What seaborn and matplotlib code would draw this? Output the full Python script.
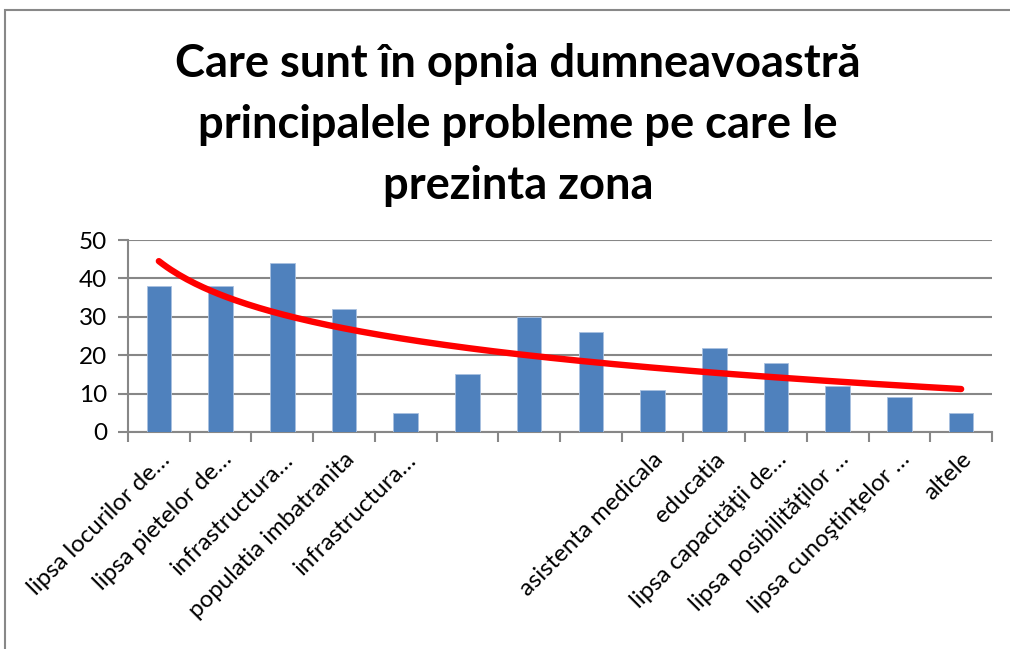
import numpy as np
import pandas as pd
import matplotlib
matplotlib.use("Agg")
import matplotlib.pyplot as plt
import seaborn as sns

title = "Care sunt în opnia dumneavoastră\nprincipalele probleme pe care le\nprezinta zona"

categories = [
    "lipsa locurilor de…",
    "lipsa pietelor de…",
    "infrastructura…",
    "populatia imbatranita",
    "infrastructura…",
    "",
    "",
    "",
    "asistenta medicala",
    "educatia",
    "lipsa capacităţii de…",
    "lipsa posibilităţilor …",
    "lipsa cunoştinţelor …",
    "altele",
]
values = [38, 38, 44, 32, 5, 15, 30, 26, 11, 22, 18, 12, 9, 5]
yticks = [0, 10, 20, 30, 40, 50]

sns.set_theme(style="white")
plt.rcParams["font.family"] = ["Lato", "DejaVu Sans"]
plt.rcParams["text.color"] = "black"
plt.rcParams["xtick.color"] = "black"
plt.rcParams["ytick.color"] = "black"

bar_color = "#4F81BD"
grid_color = "#878787"

df = pd.DataFrame({"pos": np.arange(len(values)), "value": values})

fig = plt.figure(figsize=(10.10, 6.49), dpi=100)
ax = fig.add_axes([128 / 1010, 1 - 432 / 649, (992 - 128) / 1010, (432 - 240) / 649])

sns.barplot(data=df, x="pos", y="value", color=bar_color, width=0.4,
            saturation=1, ax=ax, zorder=3, edgecolor="#A9C1E0", linewidth=0.6)

# logarithmic trend line fitted to the series
xs = np.arange(1, len(values) + 1)
a, b = np.polyfit(np.log(xs), np.array(values, dtype=float), 1)
xf = np.linspace(1, len(values), 200)
ax.plot(xf - 1, a * np.log(xf) + b, color="#FF0000", lw=4.6,
        solid_capstyle="round", zorder=4)

ax.set_xlim(-0.5, len(values) - 0.5)
ax.set_ylim(0, 50)
ax.set_yticks(yticks)
ax.set_yticklabels([str(t) for t in yticks], fontsize=17.5)
ax.yaxis.grid(True, color=grid_color, lw=1.5, zorder=0)
ax.set_axisbelow(True)

ax.set_xticks(np.arange(len(values)))
ax.set_xticklabels(categories, rotation=45, ha="right", rotation_mode="anchor",
                   fontsize=17.3)
ax.set_xlabel("")
ax.set_ylabel("")

# category boundary tick marks
ax.set_xticks(np.arange(-0.5, len(values)), minor=True)
ax.tick_params(axis="x", which="major", length=0, pad=12, colors="black")
ax.tick_params(axis="x", which="minor", length=7, width=1.5, color=grid_color,
               bottom=True)
ax.tick_params(axis="y", which="major", length=7, width=1.5, color=grid_color,
               labelcolor="black", left=True, pad=8)

for side in ["top", "right"]:
    ax.spines[side].set_visible(False)
for side in ["left", "bottom"]:
    ax.spines[side].set_color(grid_color)
    ax.spines[side].set_linewidth(1.5)

fig.text(0.513, 0.934, title, ha="center", va="top", fontsize=32.6,
         fontweight="bold", linespacing=1.56, color="black")

# outer chart border
fig.patches.append(plt.Rectangle((5 / 1010, -0.1), 1.2, 1 - 10 / 649 + 0.1,
                                 transform=fig.transFigure, fill=False,
                                 edgecolor="#888888", lw=1.5))

fig.savefig("out.png", dpi=100)
